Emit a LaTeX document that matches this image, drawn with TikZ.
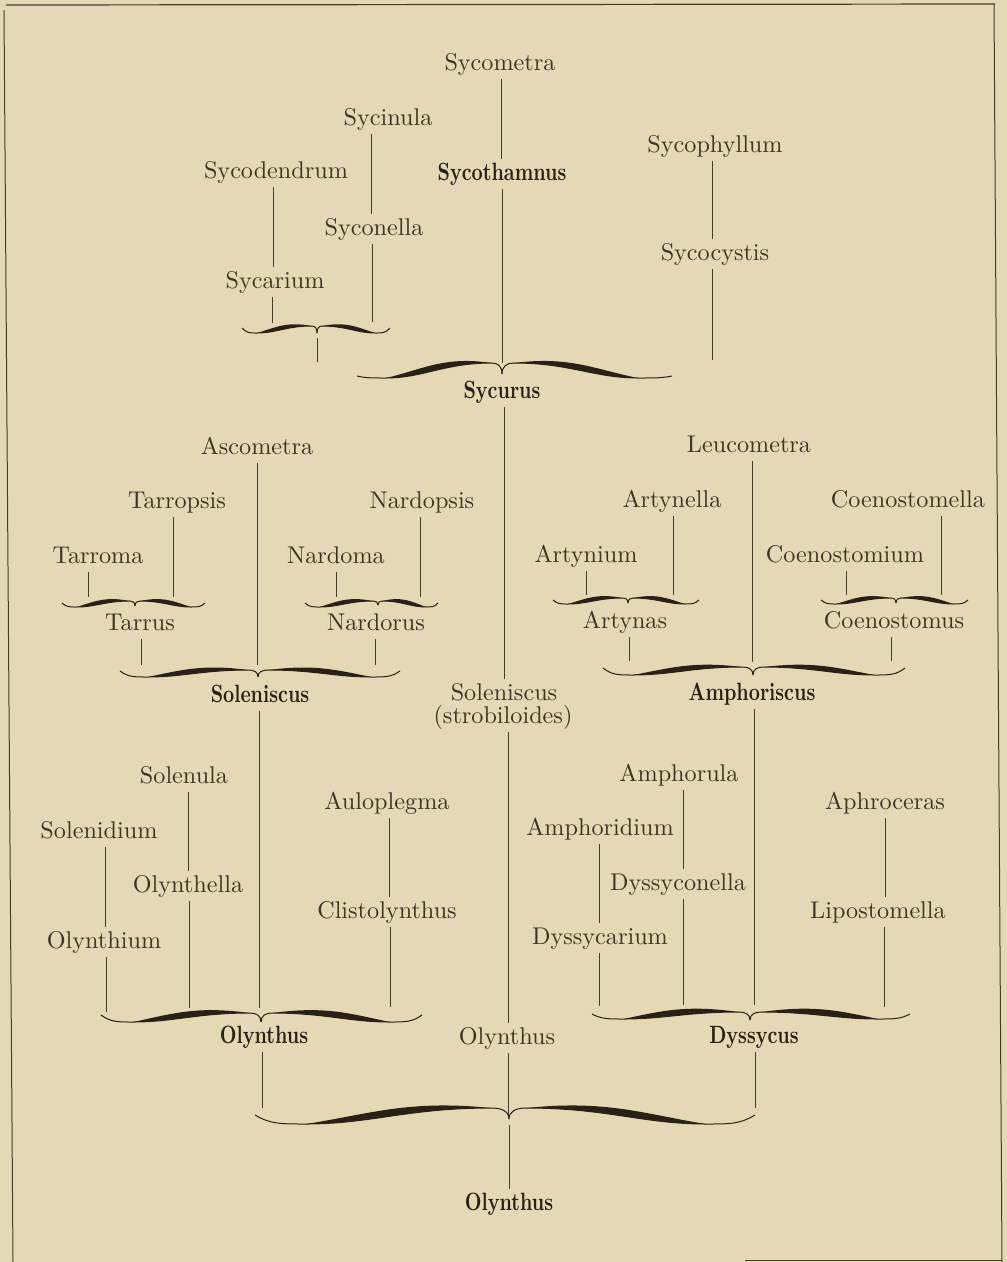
\documentclass[tikz,border=0pt]{standalone}
\usepackage{graphicx}
\definecolor{paper}{RGB}{229,217,181}
\definecolor{ink}{RGB}{62,52,36}
\definecolor{lnc}{RGB}{70,60,44}
\definecolor{inkd}{RGB}{42,33,22}
\newcommand\T[1]{\scalebox{2.42}{#1}}
\newcommand\B[1]{\scalebox{1.94}[2.5]{\bfseries #1}}
% half of an old-style printer's brace: #1 xEnd, #2 xCusp, #3 yEnd, #4 yLow, #5 yShoulder, #6 yCusp, #7 thickness
\newcommand\BraceHalf[7]{%
  \pgfmathsetmacro\brW{#2-(#1)}%
  \pgfmathsetmacro\brA{#1+0.2*(\brW)}%
  \pgfmathsetmacro\brB{#2-0.07*(\brW)}%
  \pgfmathsetmacro\brD{\brB-(\brA)}%
  \pgfmathsetmacro\brPa{#1+0.06*(\brW)}%
  \pgfmathsetmacro\brPb{\brA-0.1*(\brW)}%
  \pgfmathsetmacro\brPc{\brA+0.35*(\brD)}%
  \pgfmathsetmacro\brPd{\brB-0.45*(\brD)}%
  \pgfmathsetmacro\brYa{#5-1.2*#7}%
  \pgfmathsetmacro\brYb{#4-1.45*#7}%
  \pgfmathsetmacro\brPe{\brB+0.6*(#2-\brB)}%
  \pgfmathsetmacro\brYc{#5+0.3*(#6-#5)}%
  \draw[bthin] (#1,#3) .. controls (\brPa,#4) and (\brPb,#4) .. (\brA,#4);
  \fill[inkd] (\brA,#4) .. controls (\brPc,#4) and (\brPd,#5) .. (\brB,#5)
     .. controls (\brPd,\brYa) and (\brPc,\brYb) .. (\brA,#4) -- cycle;
  \draw[bthin] (\brA,#4) .. controls (\brPc,#4) and (\brPd,#5) .. (\brB,#5);
  \draw[bthin] (\brB,#5) .. controls (\brPe,#5) and (#2,\brYc) .. (#2,#6);
}
% #1 xL, #2 xC, #3 xR, #4 yEnd, #5 yLow, #6 yShoulder, #7 yCusp, #8 thickness
\newcommand\Brace[8]{%
  \BraceHalf{#1}{#2}{#4}{#5}{#6}{#7}{#8}%
  \BraceHalf{#3}{#2}{#4}{#5}{#6}{#7}{#8}%
}
\begin{document}
\begin{tikzpicture}[x=1pt,y=-1pt,
  lab/.style={anchor=base, inner sep=4pt, text height=17pt, text depth=5pt,
    font=\fontsize{10}{12}\selectfont, text=ink},
  bld/.style={lab, text=inkd},
  ln/.style={draw=lnc, line width=1pt},
  bthin/.style={draw=inkd, line width=1pt}]
\useasboundingbox (0,0) rectangle (1007,1262);
\fill[paper] (0,0) rectangle (1007,1262);
% frame
\draw[ln, line width=1.2pt] (6,5) -- (995,4);
\draw[ln] (4,10) -- (13,1262);
\draw[ln] (994,4) -- (1002,1262);
\draw[ln] (745,1260) -- (1002,1260);

% ---------- top tier ----------
\node[lab] (sycometra) at (500,70) {\T{Sycometra}};
\node[bld] (sycothamnus) at (502,180) {\B{Sycothamnus}};
\node[lab] (sycinula) at (388,125) {\T{Sycinula}};
\node[lab] (sycodendrum) at (276,178) {\T{Sycodendrum}};
\node[lab] (syconella) at (374,235) {\T{Syconella}};
\node[lab] (sycarium) at (275,288) {\T{Sycarium}};
\node[lab] (sycophyllum) at (715,152) {\T{Sycophyllum}};
\node[lab] (sycocystis) at (715,260) {\T{Sycocystis}};
\node[bld] (sycurus) at (502,398) {\B{Sycurus}};

\draw[ln] (sycometra.south -| 501,0) -- (sycothamnus.north -| 501,0);
\draw[ln] (sycothamnus.south -| 502,0) -- (502,363);
\draw[ln] (sycinula.south -| 371,0) -- (syconella.north -| 371,0);
\draw[ln] (syconella.south -| 372,0) -- (372,322);
\draw[ln] (sycodendrum.south -| 273,0) -- (sycarium.north -| 273,0);
\draw[ln] (sycarium.south -| 272,0) -- (272,323);
\Brace{242}{317}{390}{328}{333}{326}{333}{4}
\coordinate (smallstem) at (317,338);
\draw[ln] (smallstem) -- (317,362);
\draw[ln] (sycophyllum.south -| 712,0) -- (sycocystis.north -| 712,0);
\draw[ln] (sycocystis.south -| 712,0) -- (712,360);
\Brace{357}{502}{672}{376}{378}{363}{374}{6}

% ---------- middle tier ----------
\node[lab] (solA) at (504,700) {\T{Soleniscus}};
\node[lab] (solB) at (503,723) {\T{(strobiloides)}};
\draw[ln] (sycurus.south -| 504,0) -- (solA.north -| 504,0);

\node[lab] (ascometra) at (257,454) {\T{Ascometra}};
\node[lab] (tarropsis) at (177,508) {\T{Tarropsis}};
\node[lab] (tarroma) at (98,563) {\T{Tarroma}};
\node[lab] (tarrus) at (140,630) {\T{Tarrus}};
\node[lab] (nardopsis) at (422,508) {\T{Nardopsis}};
\node[lab] (nardoma) at (336,563) {\T{Nardoma}};
\node[lab] (nardorus) at (376,630) {\T{Nardorus}};
\node[bld] (soleniscus) at (260,702) {\B{Soleniscus}};

\draw[ln] (ascometra.south -| 257,0) -- (257,665);
\draw[ln] (tarropsis.south -| 173,0) -- (173,597);
\draw[ln] (tarroma.south -| 88,0) -- (88,597);
\Brace{62}{135}{205}{603}{607}{601}{606}{4}
\draw[ln] (tarrus.south -| 141,0) -- (141,665);
\draw[ln] (nardopsis.south -| 420,0) -- (420,597);
\draw[ln] (nardoma.south -| 336,0) -- (336,597);
\Brace{305}{378}{438}{603}{607}{601}{605}{4}
\draw[ln] (nardorus.south -| 375,0) -- (375,665);
\Brace{120}{258}{400}{671}{677}{670}{677}{5}

\node[lab] (leucometra) at (749,452) {\T{Leucometra}};
\node[lab] (artynella) at (672,507) {\T{Artynella}};
\node[lab] (artynium) at (586,562) {\T{Artynium}};
\node[lab] (artynas) at (625,628) {\T{Artynas}};
\node[lab] (coenostomella) at (908,507) {\T{Coenostomella}};
\node[lab] (coenostomium) at (845,562) {\T{Coenostomium}};
\node[lab] (coenostomus) at (894,628) {\T{Coenostomus}};
\node[bld] (amphoriscus) at (752,700) {\B{Amphoriscus}};

\draw[ln] (leucometra.south -| 752,0) -- (752,662);
\draw[ln] (artynella.south -| 673,0) -- (673,595);
\draw[ln] (artynium.south -| 586,0) -- (586,595);
\Brace{553}{628}{699}{600}{604}{598}{603}{4}
\draw[ln] (artynas.south -| 629,0) -- (629,661);
\draw[ln] (coenostomella.south -| 941,0) -- (941,595);
\draw[ln] (coenostomium.south -| 846,0) -- (846,595);
\Brace{821}{896}{968}{600}{604}{598}{603}{4}
\draw[ln] (coenostomus.south -| 891,0) -- (891,661);
\Brace{603}{753}{905}{668}{675}{667}{675}{5}

% ---------- lower tier ----------
\node[lab] (solenula) at (184,783) {\T{Solenula}};
\node[lab] (solenidium) at (99,838) {\T{Solenidium}};
\node[lab] (olynthella) at (188,892) {\T{Olynthella}};
\node[lab] (olynthium) at (104,948) {\T{Olynthium}};
\node[lab] (auloplegma) at (387,809) {\T{Auloplegma}};
\node[lab] (clistolynthus) at (387,918) {\T{Clistolynthus}};
\node[bld] (olynthusL) at (264,1043) {\B{Olynthus}};

\draw[ln] (soleniscus.south -| 259,0) -- (259,1008);
\draw[ln] (solenula.south -| 188,0) -- (olynthella.north -| 188,0);
\draw[ln] (olynthella.south -| 189,0) -- (189,1008);
\draw[ln] (solenidium.south -| 105,0) -- (olynthium.north -| 105,0);
\draw[ln] (olynthium.south -| 106,0) -- (106,1012);
\draw[ln] (auloplegma.south -| 389,0) -- (clistolynthus.north -| 389,0);
\draw[ln] (clistolynthus.south -| 390,0) -- (390,1007);
\Brace{101}{261}{422}{1015}{1022}{1013}{1022}{6}

\node[lab] (amphorula) at (679,781) {\T{Amphorula}};
\node[lab] (amphoridium) at (600,835) {\T{Amphoridium}};
\node[lab] (dyssyconella) at (678,890) {\T{Dyssyconella}};
\node[lab] (dyssycarium) at (600,944) {\T{Dyssycarium}};
\node[lab] (aphroceras) at (885,809) {\T{Aphroceras}};
\node[lab] (lipostomella) at (878,918) {\T{Lipostomella}};
\node[bld] (dyssycus) at (754,1043) {\B{Dyssycus}};

\draw[ln] (amphoriscus.south -| 754,0) -- (754,1005);
\draw[ln] (amphorula.south -| 683,0) -- (dyssyconella.north -| 683,0);
\draw[ln] (dyssyconella.south -| 683,0) -- (683,1005);
\draw[ln] (amphoridium.south -| 599,0) -- (dyssycarium.north -| 599,0);
\draw[ln] (dyssycarium.south -| 599,0) -- (599,1006);
\draw[ln] (aphroceras.south -| 885,0) -- (lipostomella.north -| 885,0);
\draw[ln] (lipostomella.south -| 884,0) -- (884,1007);
\Brace{592}{750}{910}{1014}{1019}{1012}{1020}{6}

\node[lab] (olyc) at (507,1044) {\T{Olynthus}};
\draw[ln] (solB.south -| 508,0) -- (olyc.north -| 508,0);

% ---------- root ----------
\node[bld] (olynthusB) at (509,1210) {\B{Olynthus}};
\draw[ln] (olynthusL.south -| 262,0) -- (262,1108);
\draw[ln] (dyssycus.south -| 755,0) -- (755,1108);
\draw[ln] (olyc.south -| 508,0) -- (508,1115);
\Brace{255}{509}{755}{1115}{1124}{1108}{1119}{7}
\draw[ln] (509,1125) -- (olynthusB.north -| 509,0);
\end{tikzpicture}
\end{document}
